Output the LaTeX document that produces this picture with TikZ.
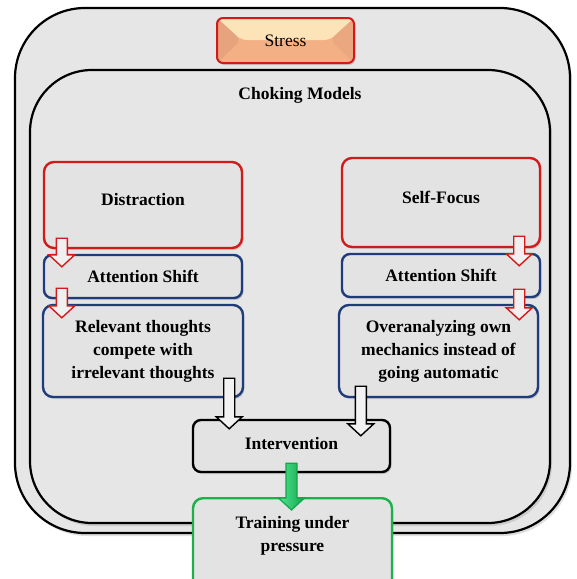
\documentclass[tikz,border=0pt]{standalone}
\usepackage{fontspec}
\setmainfont{Liberation Serif}
\usetikzlibrary{positioning,calc,shadows}
\definecolor{frameback}{HTML}{E6E6E6}
\definecolor{boxback}{HTML}{E3E3E3}
\definecolor{focusred}{HTML}{D21A1A}
\definecolor{shiftblue}{HTML}{1F3B7A}
\definecolor{traingreen}{HTML}{1DB14B}
\definecolor{stressfill}{HTML}{F3B084}
\definecolor{stresstop}{HTML}{FDE4B8}
\definecolor{stressside}{HTML}{E6A37D}
\definecolor{greenlight}{HTML}{52E693}
\definecolor{greendark}{HTML}{13A54B}

% vertical block arrow from #2 down to the tip #3
\newcommand{\downblock}[3]{%
  \draw[#1] let \p1=(#2), \p2=(#3) in
    (\x1-5.5pt,\y1) -- (\x1+5.5pt,\y1) -- (\x1+5.5pt,\y2+12pt)
    -- (\x1+13pt,\y2+12pt) -- (\x1,\y2) -- (\x1-13pt,\y2+12pt)
    -- (\x1-5.5pt,\y2+12pt) -- cycle;}

\begin{document}
\begin{tikzpicture}[x=1pt,y=-1pt,
  bigframe/.style={draw=black, line width=2.2pt, fill=frameback, rounded corners=#1,
    drop shadow={shadow xshift=2pt, shadow yshift=-3pt, opacity=.25}},
  box/.style={draw, line width=2.4pt, fill=boxback, rounded corners=10pt, align=center,
    inner sep=0pt, font=\fontsize{17.5}{23}\selectfont\bfseries,
    drop shadow={shadow xshift=1.5pt, shadow yshift=-2pt, opacity=.3}},
  lift/.style={text depth=#1},
  boxtext/.style={align=center, inner sep=0pt, font=\fontsize{17.5}{23}\selectfont\bfseries},
  redarrow/.style={draw=focusred, line width=1.4pt, fill=white!94!black},
  blackarrow/.style={draw=black, line width=1.4pt, fill=white!95!black},
  greenarrow/.style={draw=greendark, line width=1.2pt, left color=greenlight, right color=greendark},
  stressbox/.style={draw=focusred, line width=2pt, fill=stressfill, rounded corners=6pt,
    minimum width=137pt, minimum height=45pt, font=\fontsize{17.5}{23}\selectfont,
    drop shadow={shadow xshift=1.5pt, shadow yshift=-2pt, opacity=.3},
    path picture={
      \fill[stresstop] (path picture bounding box.north west) -- (path picture bounding box.north east)
        -- ([xshift=-24pt,yshift=-22pt]path picture bounding box.north east)
        -- ([xshift=24pt,yshift=-22pt]path picture bounding box.north west) -- cycle;
      \fill[stressside] (path picture bounding box.north west)
        -- ([xshift=24pt,yshift=-22pt]path picture bounding box.north west)
        -- (path picture bounding box.south west) -- cycle;
      \fill[stressside!60!stressfill] (path picture bounding box.north east)
        -- ([xshift=-24pt,yshift=-22pt]path picture bounding box.north east)
        -- (path picture bounding box.south east) -- cycle;
    }},
]
  \useasboundingbox (0,0) rectangle (577,579);

  % frames
  \draw[bigframe=70pt] (15,8) rectangle (570,533);
  \draw[bigframe=62pt] (30,70) rectangle (550,523);

  \node[stressbox] (stress) at (285.5,40.5) {Stress};
  \node[boxtext] (models) at (300,95) {Choking Models};

  % distraction branch
  \node[box, draw=focusred, minimum width=198pt, minimum height=86pt, lift=12pt] (dis) at (143,205) {Distraction};
  \node[box, draw=shiftblue, minimum width=198pt, minimum height=43pt, rounded corners=8pt] (shiftL) at (143,276.5) {Attention Shift};
  \node[box, draw=shiftblue, minimum width=200pt, minimum height=92pt] (relev) at (143,351)
    {Relevant thoughts\\compete with\\irrelevant thoughts};

  % self-focus branch
  \node[box, draw=focusred, minimum width=198pt, minimum height=89pt, lift=10pt] (self) at (441,202.5) {Self-Focus};
  \node[box, draw=shiftblue, minimum width=198pt, minimum height=43pt, rounded corners=8pt] (shiftR) at (441,275.5) {Attention Shift};
  \node[box, draw=shiftblue, minimum width=199pt, minimum height=92pt] (over) at (438.5,351)
    {Overanalyzing own\\mechanics instead of\\going automatic};

  \node[box, draw=black, minimum width=197pt, minimum height=52pt, rounded corners=8pt, lift=6pt] (interv) at (291.5,446) {Intervention};
  \node[box, draw=traingreen, anchor=north, minimum width=199pt, minimum height=100pt] (train) at (292.5,497) {};
  \node[boxtext, below=19pt of train.north] (traintext) {Training under\\pressure};

  % arrows
  \downblock{redarrow}{$(dis.south west)+(19,-11)$}{$(shiftL.north west)+(19,13)$}
  \downblock{redarrow}{$(shiftL.south west)+(19,-11)$}{$(relev.north west)+(20,14)$}
  \downblock{redarrow}{$(self.south east)+(-22,-12)$}{$(shiftR.north east)+(-22,13)$}
  \downblock{redarrow}{$(shiftR.south east)+(-22,-9)$}{$(over.north east)+(-20,16)$}
  \downblock{blackarrow}{$(relev.south east)+(-15,-20)$}{$(interv.north west)+(35,10)$}
  \downblock{blackarrow}{$(over.south west)+(23,-12)$}{$(interv.north east)+(-28,17)$}
  \downblock{greenarrow}{$(interv.south)+(0,-10)$}{$(train.north)+(0,13)$}
\end{tikzpicture}
\end{document}
